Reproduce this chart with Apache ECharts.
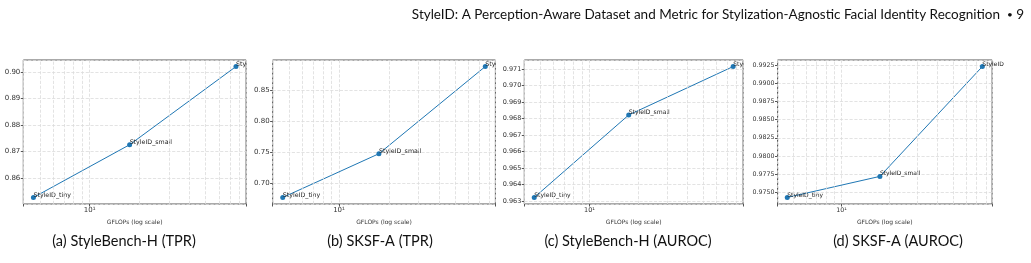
<!DOCTYPE html>
<html>
<head>
  <meta charset="utf-8">
  <title>StyleID - GFLOPs vs score</title>
  <script src="https://cdn.jsdelivr.net/npm/echarts@6/dist/echarts.min.js"></script>
  <style>
    html, body { margin: 0; padding: 0; background: #fff; }
    #chart { width: 1031px; height: 263px; }
  </style>
</head>
<body>
  <div id="chart"></div>
</body>
<script>
  // data
  const modelNames = ['StyleID_tiny', 'StyleID_small', 'StyleID'];
  const gflops = [4.58, 17.4, 76.1];
  const styleBenchTPR = [0.8527, 0.8726, 0.9021];
  const sksfTPR = [0.6762, 0.7473, 0.8890];
  const styleBenchAUROC = [0.96322, 0.96821, 0.97114];
  const sksfAUROC = [0.97431, 0.97720, 0.99227];
  const captions = ['(a) StyleBench-H (TPR)', '(b) SKSF-A (TPR)', '(c) StyleBench-H (AUROC)', '(d) SKSF-A (AUROC)'];
  const yTickStep = [0.01, 0.05, 0.001, 0.0025];
  const yDecimals = [2, 2, 3, 4];
  const minorTicksX = [4, 5, 6, 7, 8, 9, 20, 30, 40, 50, 60, 70, 80];
  const headerText = 'StyleID: A Perception-Aware Dataset and Metric for Stylization-Agnostic Facial Identity Recognition';
  const pageNumber = '9';

  const panels = [styleBenchTPR, sksfTPR, styleBenchAUROC, sksfAUROC];

  // layout of each subplot (px)
  const gridLeft = [23.3, 272.6, 524.3, 777.5];
  const gridWidth = [222.8, 222.8, 218.8, 214.6];
  const captionX = [124, 380, 628, 898];
  const tickFont = [7, 7, 6.5, 6.3];
  const noteFont = [6.3, 6.3, 6.1, 6];
  const noteClip = [13, 13, 12, 40]; // the last label is cut at the subfigure edge

  const blue = '#1f77b4';
  const gridGray = '#dcdcdc';

  // matplotlib-like 5% margins
  function padRange(lo, hi) {
    const m = (hi - lo) * 0.05;
    return [lo - m, hi + m];
  }
  const logX = padRange(Math.log10(gflops[0]), Math.log10(gflops[gflops.length - 1]));
  const xMin = Math.pow(10, logX[0]);
  const xMax = Math.pow(10, logX[1]);

  const grids = [], xAxes = [], yAxes = [], series = [];

  panels.forEach(function (vals, i) {
    const yr = padRange(Math.min.apply(null, vals), Math.max.apply(null, vals));
    const step = yTickStep[i];

    grids.push({
      left: gridLeft[i], top: 60, width: gridWidth[i], height: 144,
      show: true, borderColor: '#555', borderWidth: 1, backgroundColor: 'transparent'
    });

    xAxes.push({
      type: 'log', logBase: 10, gridIndex: i, min: xMin, max: xMax,
      name: 'GFLOPs (log scale)', nameLocation: 'middle', nameGap: 15,
      nameTextStyle: { fontFamily: 'DejaVu Sans', fontSize: 6, color: '#333' },
      axisLine: { show: false },
      axisTick: { show: true, length: 2.5, lineStyle: { color: '#555' } },
      axisLabel: {
        margin: 3, fontFamily: 'DejaVu Sans', fontSize: tickFont[i], color: '#333',
        formatter: function (v) {
          const e = Math.log10(v);
          return Math.abs(e - Math.round(e)) < 1e-6 ? '10' + '\u00b9' : '';
        }
      },
      splitLine: { show: true, lineStyle: { color: gridGray, type: 'dashed', width: 0.8 } }
    });

    yAxes.push({
      type: 'value', gridIndex: i, min: yr[0], max: yr[1],
      minInterval: step, maxInterval: step, splitNumber: 6,
      axisLine: { show: false },
      axisTick: { show: true, length: 2.5, lineStyle: { color: '#555' } },
      axisLabel: {
        margin: 3, fontFamily: 'DejaVu Sans', fontSize: tickFont[i], color: '#333',
        showMinLabel: false, showMaxLabel: false,
        formatter: function (v) {
          const k = Math.round(v / step);
          return Math.abs(v - k * step) < step * 1e-3 ? (k * step).toFixed(yDecimals[i]) : '';
        }
      },
      splitLine: { show: true, lineStyle: { color: gridGray, type: 'dashed', width: 0.8 } }
    });

    const last = gflops.length - 1;
    series.push({
      type: 'line', xAxisIndex: i, yAxisIndex: i,
      data: gflops.map(function (g, j) {
        const item = { value: [g, vals[j]], name: modelNames[j] };
        if (j === last) {
          item.label = { width: noteClip[i], overflow: 'truncate', ellipsis: '' };
        }
        return item;
      }),
      symbol: 'circle', symbolSize: 5, clip: false,
      itemStyle: { color: blue },
      lineStyle: { color: blue, width: 1 },
      label: {
        show: true, position: [2.5, 3], align: 'left', verticalAlign: 'bottom',
        fontFamily: 'DejaVu Sans', fontSize: noteFont[i], color: '#222',
        formatter: '{b}'
      },
      markLine: {
        silent: true, symbol: 'none', animation: false,
        label: { show: false },
        lineStyle: { color: gridGray, type: 'dashed', width: 0.8 },
        data: minorTicksX.map(function (v) { return { xAxis: v }; })
      },
      z: 3
    });
  });

  const graphics = captions.map(function (c, i) {
    return {
      type: 'text', x: captionX[i], y: 241,
      style: { text: c, textAlign: 'center', textVerticalAlign: 'middle', fontFamily: 'Lato', fontSize: 14.5, fill: '#111' }
    };
  });
  graphics.push({
    type: 'text', x: 1000, y: 15,
    style: { text: headerText, textAlign: 'right', textVerticalAlign: 'middle', fontFamily: 'Lato', fontSize: 13.5, fill: '#111' }
  });
  graphics.push({
    type: 'text', x: 1010, y: 15,
    style: { text: '\u2022', textAlign: 'center', textVerticalAlign: 'middle', fontFamily: 'Lato', fontSize: 10, fill: '#111' }
  });
  graphics.push({
    type: 'text', x: 1024, y: 15,
    style: { text: pageNumber, textAlign: 'right', textVerticalAlign: 'middle', fontFamily: 'Lato', fontSize: 13.5, fill: '#111' }
  });

  const chart = echarts.init(document.getElementById('chart'));
  chart.setOption({
    animation: false,
    backgroundColor: '#fff',
    grid: grids,
    xAxis: xAxes,
    yAxis: yAxes,
    series: series,
    graphic: graphics
  });
</script>
</html>
